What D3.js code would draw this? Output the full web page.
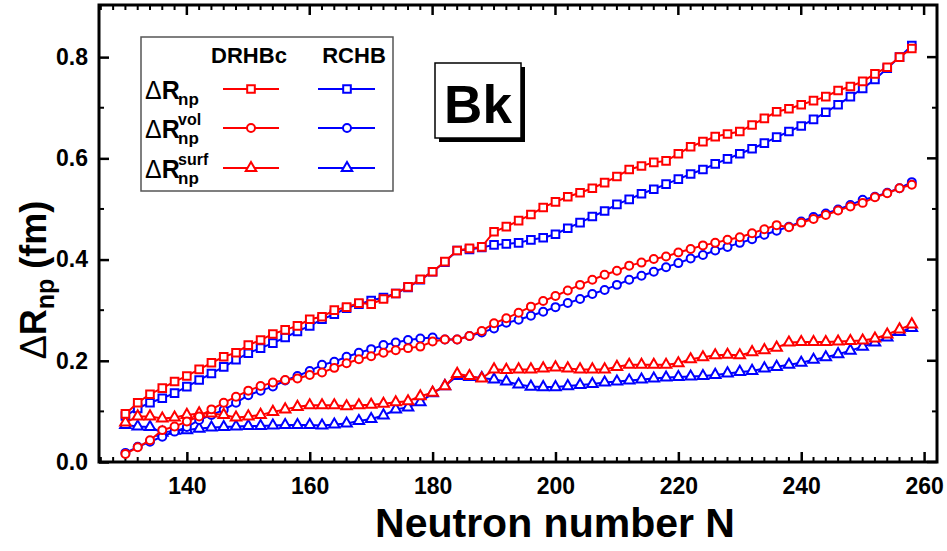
<!DOCTYPE html>
<html lang="en">
<head>
  <meta charset="UTF-8">
  <title>Bk neutron skin</title>
  <script src="https://d3js.org/d3.v7.min.js"></script>
  <style>
    body, html { margin: 0; padding: 0; background: #fff; overflow: hidden; }
    text { font-family: "Liberation Sans", Arial, sans-serif; font-weight: bold; }
  </style>
</head>
<body>
<script>
  // neutron numbers (every even N from 130 to 258)
  const neutrons = [130, 132, 134, 136, 138, 140, 142, 144, 146, 148, 150, 152, 154, 156, 158, 160,
    162, 164, 166, 168, 170, 172, 174, 176, 178, 180, 182, 184, 186, 188, 190, 192, 194, 196, 198,
    200, 202, 204, 206, 208, 210, 212, 214, 216, 218, 220, 222, 224, 226, 228, 230, 232, 234, 236,
    238, 240, 242, 244, 246, 248, 250, 252, 254, 256, 258];

  const drhbcNp = [0.095, 0.117, 0.134, 0.146, 0.159, 0.170, 0.183, 0.196, 0.208, 0.216, 0.231, 0.241,
    0.253, 0.261, 0.269, 0.282, 0.287, 0.300, 0.306, 0.314, 0.312, 0.322, 0.333, 0.346, 0.361, 0.376,
    0.396, 0.418, 0.422, 0.425, 0.455, 0.465, 0.477, 0.489, 0.503, 0.514, 0.524, 0.532, 0.541, 0.552,
    0.564, 0.578, 0.585, 0.592, 0.595, 0.609, 0.623, 0.633, 0.643, 0.648, 0.653, 0.666, 0.679, 0.692,
    0.698, 0.706, 0.714, 0.722, 0.734, 0.742, 0.752, 0.767, 0.780, 0.800, 0.817];
  const rchbNp = [0.091, 0.106, 0.117, 0.126, 0.136, 0.149, 0.162, 0.175, 0.188, 0.202, 0.215, 0.225,
    0.235, 0.246, 0.258, 0.269, 0.282, 0.292, 0.304, 0.312, 0.319, 0.325, 0.333, 0.345, 0.360, 0.376,
    0.395, 0.418, 0.420, 0.424, 0.429, 0.431, 0.433, 0.439, 0.443, 0.450, 0.462, 0.473, 0.485, 0.496,
    0.509, 0.519, 0.530, 0.539, 0.549, 0.559, 0.569, 0.578, 0.589, 0.599, 0.609, 0.619, 0.630, 0.642,
    0.653, 0.664, 0.677, 0.691, 0.706, 0.722, 0.738, 0.756, 0.778, 0.800, 0.823];
  const drhbcVol = [0.016, 0.029, 0.043, 0.063, 0.070, 0.080, 0.090, 0.104, 0.117, 0.129, 0.141, 0.150,
    0.157, 0.162, 0.165, 0.172, 0.177, 0.186, 0.195, 0.203, 0.209, 0.216, 0.221, 0.225, 0.228, 0.238,
    0.242, 0.242, 0.249, 0.259, 0.274, 0.284, 0.295, 0.307, 0.318, 0.328, 0.339, 0.350, 0.360, 0.370,
    0.378, 0.388, 0.394, 0.401, 0.406, 0.414, 0.421, 0.428, 0.433, 0.439, 0.444, 0.452, 0.460, 0.468,
    0.464, 0.473, 0.480, 0.488, 0.497, 0.505, 0.512, 0.523, 0.531, 0.541, 0.548];
  const rchbVol = [0.018, 0.030, 0.040, 0.050, 0.060, 0.069, 0.083, 0.093, 0.103, 0.117, 0.132, 0.141,
    0.149, 0.161, 0.170, 0.180, 0.192, 0.198, 0.208, 0.216, 0.223, 0.231, 0.236, 0.241, 0.244, 0.246,
    0.242, 0.242, 0.249, 0.256, 0.264, 0.275, 0.281, 0.289, 0.297, 0.306, 0.314, 0.322, 0.332, 0.340,
    0.350, 0.360, 0.368, 0.376, 0.385, 0.393, 0.402, 0.409, 0.418, 0.425, 0.433, 0.440, 0.449, 0.457,
    0.465, 0.475, 0.484, 0.491, 0.499, 0.508, 0.518, 0.524, 0.532, 0.541, 0.553];
  const drhbcSurf = [0.078, 0.090, 0.090, 0.086, 0.088, 0.093, 0.096, 0.096, 0.093, 0.088, 0.090, 0.093,
    0.099, 0.104, 0.109, 0.112, 0.112, 0.112, 0.110, 0.112, 0.113, 0.115, 0.118, 0.120, 0.130, 0.137,
    0.150, 0.174, 0.170, 0.165, 0.183, 0.182, 0.183, 0.183, 0.185, 0.187, 0.185, 0.183, 0.183, 0.183,
    0.188, 0.192, 0.192, 0.192, 0.192, 0.195, 0.203, 0.207, 0.211, 0.212, 0.211, 0.217, 0.221, 0.226,
    0.236, 0.237, 0.237, 0.237, 0.238, 0.239, 0.240, 0.244, 0.252, 0.262, 0.272];
  const rchbSurf = [0.073, 0.070, 0.069, 0.058, 0.062, 0.063, 0.066, 0.068, 0.069, 0.070, 0.071, 0.071,
    0.072, 0.073, 0.073, 0.073, 0.072, 0.074, 0.076, 0.081, 0.085, 0.092, 0.104, 0.108, 0.118, 0.136,
    0.150, 0.170, 0.168, 0.166, 0.163, 0.159, 0.153, 0.149, 0.148, 0.148, 0.150, 0.152, 0.154, 0.157,
    0.159, 0.161, 0.163, 0.165, 0.167, 0.168, 0.169, 0.170, 0.172, 0.175, 0.178, 0.180, 0.185, 0.188,
    0.192, 0.196, 0.202, 0.207, 0.213, 0.220, 0.228, 0.236, 0.246, 0.257, 0.265];

  const xTicks = [140, 160, 180, 200, 220, 240, 260];
  const yTicks = [0.0, 0.2, 0.4, 0.6, 0.8];

  const W = 947, H = 551;
  const m = { left: 99, right: 937, top: 5, bottom: 462 };

  const svg = d3.select("body").append("svg")
    .attr("width", W)
    .attr("height", H);

  const x = d3.scaleLinear().domain([125.7, 262.1]).range([m.left, m.right]);
  const y = d3.scaleLinear().domain([0, 0.903]).range([m.bottom, m.top]);

  // minor ticks: every 2 in N, every 0.1 in y
  const xMinor = d3.range(126, 262, 2).filter(v => v % 20 !== 0);
  const yMinor = [0.1, 0.3, 0.5, 0.7];

  // bottom axis with labels
  const gx = svg.append("g")
    .attr("transform", `translate(0,${m.bottom})`)
    .call(d3.axisBottom(x).tickValues(xTicks).tickFormat(d3.format("d"))
      .tickSizeInner(-10).tickSizeOuter(0).tickPadding(16));
  gx.select(".domain").remove();
  gx.selectAll("text").attr("font-size", 23).attr("fill", "#000").attr("dy", "0.71em").attr("y", 16);
  gx.selectAll("line").attr("stroke", "#000").attr("stroke-width", 2.5);

  const gy = svg.append("g")
    .attr("transform", `translate(${m.left},0)`)
    .call(d3.axisLeft(y).tickValues(yTicks).tickFormat(d3.format(".1f"))
      .tickSizeInner(-10).tickSizeOuter(0).tickPadding(11));
  gy.select(".domain").remove();
  gy.selectAll("text").attr("font-size", 23).attr("fill", "#000");
  gy.selectAll("line").attr("stroke", "#000").attr("stroke-width", 2.5);

  // mirrored ticks on top and right, minor ticks on all sides
  const ticks = svg.append("g").attr("stroke", "#000");
  function vTicks(vals, y0, len, w) {
    ticks.selectAll(null).data(vals).join("line")
      .attr("x1", d => x(d)).attr("x2", d => x(d))
      .attr("y1", y0).attr("y2", y0 + len)
      .attr("stroke-width", w);
  }
  function hTicks(vals, x0, len, w) {
    ticks.selectAll(null).data(vals).join("line")
      .attr("y1", d => y(d)).attr("y2", d => y(d))
      .attr("x1", x0).attr("x2", x0 + len)
      .attr("stroke-width", w);
  }
  vTicks(xMinor, m.bottom, -5, 2);
  vTicks(xMinor, m.top, 5, 2);
  vTicks(xTicks, m.top, 10, 2.5);
  hTicks(yMinor, m.left, 5, 2);
  hTicks(yMinor, m.right, -5, 2);
  hTicks(yTicks, m.right, -10, 2.5);

  // frame
  svg.append("rect")
    .attr("x", m.left).attr("y", m.top)
    .attr("width", m.right - m.left).attr("height", m.bottom - m.top)
    .attr("fill", "none").attr("stroke", "#000").attr("stroke-width", 3);

  // markers
  const symSquare = d3.symbol().type(d3.symbolSquare).size(58);
  const symCircle = d3.symbol().type(d3.symbolCircle).size(50);
  const symTri = d3.symbol().type(d3.symbolTriangle).size(48);

  const series = [
    { vals: rchbSurf, color: "#0000ff", sym: symTri },
    { vals: rchbVol, color: "#0000ff", sym: symCircle },
    { vals: rchbNp, color: "#0000ff", sym: symSquare },
    { vals: drhbcSurf, color: "#ff0000", sym: symTri },
    { vals: drhbcVol, color: "#ff0000", sym: symCircle },
    { vals: drhbcNp, color: "#ff0000", sym: symSquare }
  ];

  const line = d3.line().x(d => x(d[0])).y(d => y(d[1]));
  const plot = svg.append("g");

  series.forEach(s => {
    const pts = neutrons.map((n, i) => [n, s.vals[i]]);
    plot.append("path")
      .attr("d", line(pts))
      .attr("fill", "none")
      .attr("stroke", s.color)
      .attr("stroke-width", 2);
    plot.selectAll(null).data(pts).join("path")
      .attr("d", s.sym())
      .attr("transform", d => `translate(${x(d[0])},${y(d[1])})`)
      .attr("fill", "#fff")
      .attr("stroke", s.color)
      .attr("stroke-width", 2);
  });

  // legend
  const leg = svg.append("g");
  leg.append("rect")
    .attr("x", 141).attr("y", 37).attr("width", 252).attr("height", 154)
    .attr("fill", "#fff").attr("stroke", "#555").attr("stroke-width", 1.5);
  leg.append("text").attr("x", 249).attr("y", 63).attr("text-anchor", "middle")
    .attr("font-size", 22).text("DRHBc");
  leg.append("text").attr("x", 354).attr("y", 63).attr("text-anchor", "middle")
    .attr("font-size", 22).text("RCHB");

  const legRows = [
    { sup: "", sym: symSquare, yy: 89 },
    { sup: "vol", sym: symCircle, yy: 128 },
    { sup: "surf", sym: symTri, yy: 168 }
  ];
  legRows.forEach(r => {
    const t = leg.append("text").attr("x", 145).attr("y", r.yy + 10).attr("font-size", 25);
    t.append("tspan").attr("font-weight", "normal").text("\u0394");
    t.append("tspan").text("R");
    const xr = 178;
    leg.append("text").attr("x", xr).attr("y", r.yy + 16).attr("font-size", 17).text("np");
    if (r.sup) leg.append("text").attr("x", xr).attr("y", r.yy - 3).attr("font-size", 16).text(r.sup);
    [[223, 279, 251, "#ff0000"], [318, 375, 347, "#0000ff"]].forEach(([a, b, mk, c]) => {
      leg.append("line").attr("x1", a).attr("x2", b).attr("y1", r.yy).attr("y2", r.yy)
        .attr("stroke", c).attr("stroke-width", 2);
      leg.append("path").attr("d", r.sym())
        .attr("transform", `translate(${mk},${r.yy})`)
        .attr("fill", "#fff").attr("stroke", c).attr("stroke-width", 2);
    });
  });

  // element label with shadow
  svg.append("rect").attr("x", 439).attr("y", 67).attr("width", 86).attr("height", 75).attr("fill", "#000");
  svg.append("rect").attr("x", 435).attr("y", 63).attr("width", 86).attr("height", 75)
    .attr("fill", "#fff").attr("stroke", "#000").attr("stroke-width", 1.5);
  svg.append("text").attr("x", 478).attr("y", 123).attr("text-anchor", "middle")
    .attr("font-size", 53).text("Bk");

  // axis titles
  svg.append("text")
    .attr("x", 555).attr("y", 537).attr("text-anchor", "middle")
    .attr("font-size", 41).text("Neutron number N");

  const yl = svg.append("text")
    .attr("transform", "translate(46,280) rotate(-90)")
    .attr("text-anchor", "middle")
    .attr("font-size", 36);
  yl.append("tspan").attr("font-weight", "normal").text("\u0394");
  yl.append("tspan").text("R");
  yl.append("tspan").attr("font-size", 25).attr("dy", 8).text("np");
  yl.append("tspan").attr("dy", -8).text(" (fm)");
</script>
</body>
</html>
